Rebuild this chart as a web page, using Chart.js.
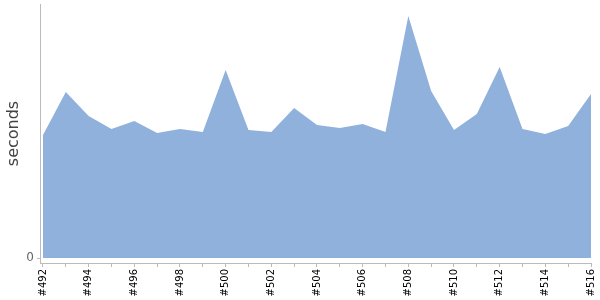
<!DOCTYPE html>
<html lang="en">
<head>
    <meta charset="UTF-8">
    <title>seconds</title>
    <style>
        body { margin: 0; background: #fff; }
        .chart-container { position: relative; width: 600px; height: 300px; }
    </style>
</head>
<body>
    <div class="chart-container">
        <canvas id="buildTimes"></canvas>
    </div>
    <script src="https://cdn.jsdelivr.net/npm/chart.js"></script>
    <script>
        // build numbers on the x axis
        const builds = [492, 493, 494, 495, 496, 497, 498, 499, 500, 501, 502, 503, 504,
                        505, 506, 507, 508, 509, 510, 511, 512, 513, 514, 515, 516];
        // duration in seconds
        const seconds = [12.3, 16.6, 14.2, 12.9, 13.7, 12.5, 12.9, 12.6, 18.8, 12.8, 12.6, 15.0, 13.3,
                         13.0, 13.4, 12.6, 24.2, 16.7, 12.8, 14.4, 19.1, 12.9, 12.4, 13.2, 16.4];
        const yTicks = [0];

        const config = {
            type: 'line',
            data: {
                datasets: [{
                    label: 'seconds',
                    data: builds.map((b, i) => ({ x: b, y: seconds[i] })),
                    fill: 'origin',
                    backgroundColor: '#8fb1db',
                    borderColor: '#8fb1db',
                    borderWidth: 0,
                    pointRadius: 0,
                    tension: 0
                }]
            },
            options: {
                animation: false,
                responsive: true,
                maintainAspectRatio: false,
                layout: { padding: { top: 0, right: 9, left: 0, bottom: 0 } },
                plugins: { legend: { display: false }, tooltip: { enabled: false } },
                scales: {
                    x: {
                        type: 'linear',
                        min: 491.87,
                        max: 516,
                        afterBuildTicks: s => { s.ticks = builds.map(b => ({ value: b })); },
                        afterFit: s => { s.height = 37; s.paddingRight = 0; },
                        grid: { drawOnChartArea: false, drawTicks: true, tickLength: 4, color: '#bbb' },
                        border: { color: '#bbb' },
                        ticks: {
                            autoSkip: false,
                            minRotation: 90,
                            maxRotation: 90,
                            padding: 2,
                            color: '#000',
                            font: { family: 'DejaVu Sans', size: 10 },
                            callback: v => (v % 2 === 0 ? '#' + v : '')
                        }
                    },
                    y: {
                        min: -0.5,
                        max: 25.4,
                        afterBuildTicks: s => { s.ticks = yTicks.map(v => ({ value: v })); },
                        afterFit: s => { s.width = 40; s.paddingTop = 4; },
                        grid: { drawOnChartArea: false, drawTicks: true, tickLength: 3, color: '#bbb' },
                        border: { color: '#bbb' },
                        title: {
                            display: true,
                            text: 'seconds',
                            color: '#444',
                            font: { family: 'DejaVu Sans', size: 16 },
                            padding: { top: 4, bottom: 0 }
                        },
                        ticks: {
                            color: '#666',
                            padding: 3,
                            font: { family: 'DejaVu Sans', size: 12 }
                        }
                    }
                }
            }
        };
        const ctx = document.querySelector('#buildTimes');
        const buildChart = new Chart(ctx, config);
    </script>
</body>
</html>
